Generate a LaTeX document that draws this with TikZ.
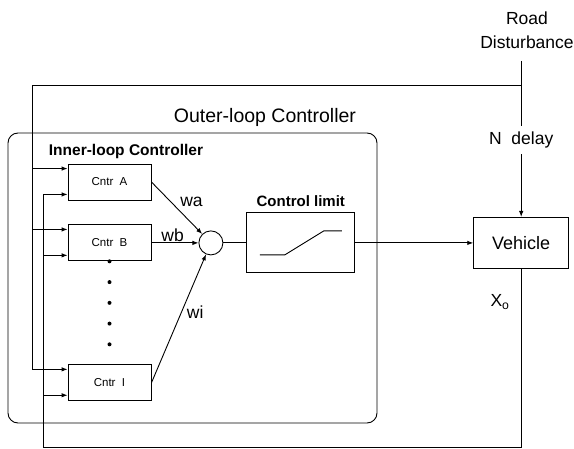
\documentclass[tikz,border=0pt]{standalone}
\usepackage{fontspec}
\setmainfont{Liberation Sans}
\usepackage{tikz}
\usetikzlibrary{arrows.meta, positioning, calc}

\begin{document}
\begin{tikzpicture}[x=1pt, y=-1pt, node distance=20pt, >={Latex[length=6pt,width=4.5pt]}]
    \tikzstyle{block} = [rectangle, draw, line width=0.9pt, inner sep=0pt, align=center]
    \tikzstyle{cntr} = [block, minimum width=83pt, minimum height=36pt, font=\fontsize{11.5}{13}\selectfont]
    \tikzstyle{line} = [draw, line width=0.9pt]
    \tikzstyle{arrow} = [draw, line width=0.9pt, ->]
    \tikzstyle{lbl} = [inner sep=1pt, align=center, font=\fontsize{17.5}{24}\selectfont]

    \useasboundingbox (0,0) rectangle (574,449);

    % outer loop frame and titles
    \node [draw, line width=0.9pt, rounded corners=10pt, minimum width=369pt, minimum height=290pt] (outer) at (192.5,278) {};
    \node [lbl, font=\fontsize{19.5}{24}\selectfont] (outertitle) at (265,117) {Outer-loop Controller};
    \node [lbl, font=\fontsize{15.5}{18}\selectfont\bfseries] (innertitle) at (126,151) {Inner-loop Controller};

    % inner controllers
    \node [cntr] (ctrA) at (109.5,182) {Cntr~~A};
    \node [cntr, below=24pt of ctrA] (ctrB) {Cntr~~B};
    \node [cntr, below=103pt of ctrB] (ctrI) {Cntr~~I};
    \foreach \k in {0,...,4}
        \fill ($(ctrB.south)+(0,\k*20.75)$) circle (2pt);

    % summing point, limiter, plant
    \node [draw, circle, line width=0.9pt, minimum size=24pt, inner sep=0pt, right=47pt of ctrB] (sum) {};
    \node [block, minimum width=108pt, minimum height=60pt, right=23pt of sum] (limit) {};
    \node [lbl, font=\fontsize{15}{18}\selectfont\bfseries, above=5pt of limit] (limittitle) {Control limit};
    \node [block, minimum width=95pt, minimum height=51pt, right=118pt of limit, font=\fontsize{18}{22}\selectfont] (vehicle) {Vehicle};
    \draw [line width=0.9pt] ($(limit.center)+(-41,12)$) -- ++(25,0) -- ($(limit.center)+(23,-12)$) -- ++(18,0);

    % disturbance input
    \node [lbl] (road) at (527,30) {Road\\Disturbance};
    \node [lbl, fill=white, inner sep=6pt] (ndelay) at (vehicle.north |- 0,140) {N~~delay};
    \coordinate (rdtop) at (vehicle.north |- 0,61);
    \coordinate (ffw) at (32,85);
    \coordinate (fbk) at (43,447);
    \node [lbl] (xo) at (500,302) {X\textsubscript{o}};

    % weighted controller outputs
    \path [arrow] (ctrA.east) -- node [lbl, above right=0pt and 2pt, pos=0.5] {wa} (sum);
    \path [arrow] (ctrB.east) -- node [lbl, above, pos=0.45] {wb} (sum);
    \path [arrow] (ctrI.east) -- node [lbl, right=4pt, pos=0.55] {wi} (sum);
    \path [line] (sum) -- (limit);
    \path [arrow] (limit) -- (vehicle);

    % disturbance and feedback lines
    \path [line] (rdtop) -- (ndelay);
    \path [arrow] (ndelay) -- (vehicle);
    \foreach \c in {ctrA,ctrB,ctrI} {
        \coordinate (\c-in1) at ([yshift=-5pt]\c.north west);
        \coordinate (\c-in2) at ([yshift=6pt]\c.south west);
        \path [arrow] (ffw |- \c-in1) -- (\c-in1);
        \path [arrow] (fbk |- \c-in2) -- (\c-in2);
    }
    \path [line] (rdtop |- ffw) -- (ffw) -- (ffw |- ctrI-in1);
    \path [line] (vehicle.south) -- (vehicle.south |- fbk) -- (fbk) -- (fbk |- ctrA-in2);
\end{tikzpicture}
\end{document}
